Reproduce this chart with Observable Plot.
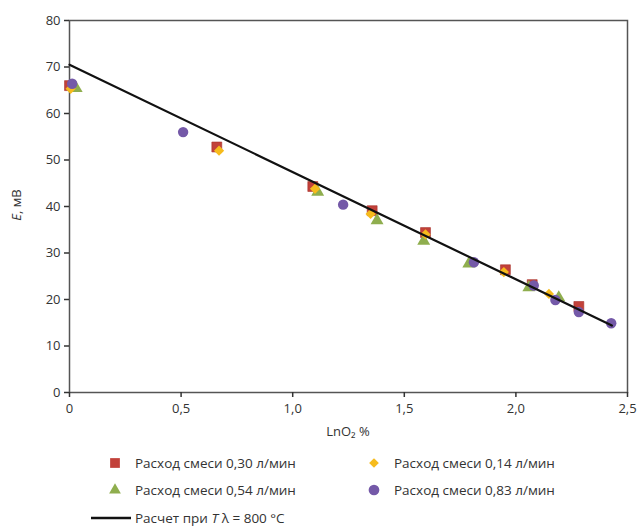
<!DOCTYPE html>
<html>
<head>
<meta charset="utf-8">
<script src="https://cdn.jsdelivr.net/npm/d3@7"></script>
<script src="https://cdn.jsdelivr.net/npm/@observablehq/plot@0.6"></script>
<style>
  body { margin: 0; background: #fff; font-family: "Open Sans", sans-serif; }
  #wrap { position: relative; width: 639px; height: 527px; }
  #legend { position: absolute; left: 0; top: 0; width: 639px; height: 527px; pointer-events: none; }
  .item { position: absolute; display: flex; align-items: center; font-size: 13.5px; color: #333; white-space: nowrap; }
  .item svg { margin-right: 8px; }
</style>
</head>
<body>
<div id="wrap"><div id="chart"></div><div id="legend"></div></div>
<script>
// Series names
const seriesNames = ["Расход смеси 0,30 л/мин", "Расход смеси 0,14 л/мин", "Расход смеси 0,54 л/мин", "Расход смеси 0,83 л/мин"];

// Series 0,30 л/мин (red squares)
const x030 = [0, 0.66, 1.09, 1.356, 1.595, 1.953, 2.073, 2.282];
const y030 = [66.0, 52.8, 44.3, 39.1, 34.4, 26.4, 23.2, 18.5];
// Series 0,14 л/мин (yellow diamonds)
const x014 = [0.005, 0.67, 1.10, 1.349, 1.595, 1.946, 2.148];
const y014 = [65.3, 52.0, 43.8, 38.4, 34.0, 25.9, 21.2];
// Series 0,54 л/мин (green triangles)
const x054 = [0.03, 1.112, 1.378, 1.587, 1.789, 2.058, 2.192];
const y054 = [65.4, 43.1, 37.0, 32.6, 27.7, 22.6, 20.4];
// Series 0,83 л/мин (purple circles)
const x083 = [0.012, 0.509, 1.226, 1.812, 2.08, 2.177, 2.282, 2.427];
const y083 = [66.4, 56.0, 40.4, 28.0, 23.0, 19.9, 17.3, 14.9];
// Calculated line
const xCalc = [0, 2.43];
const yCalc = [70.5, 14.4];

// Ticks
const xTicks = [0, 0.5, 1.0, 1.5, 2.0, 2.5];
const yTicks = [0, 10, 20, 30, 40, 50, 60, 70, 80];

const colors = { c030: "#c2413a", c014: "#f6bb1c", c054: "#8fae4e", c083: "#7459a8" };

const toRows = (xs, ys) => xs.map((x, i) => ({x, y: ys[i]}));
const fmtX = d => d === 0 ? "0" : d.toFixed(1).replace(".", ",");

const W = 639, H = 445;
const plot = Plot.plot({
  width: W, height: H,
  marginTop: 20, marginLeft: 69, marginRight: 12, marginBottom: 53,
  style: { fontFamily: "Open Sans, sans-serif", fontSize: "13px", color: "#333", background: "#fff" },
  x: { domain: [0, 2.5], ticks: xTicks, tickFormat: fmtX, label: null, tickSize: 5, tickPadding: 6 },
  y: { domain: [0, 80], ticks: yTicks, label: null, tickSize: 5, tickPadding: 4 },
  marks: [
    Plot.frame({ stroke: "#555", strokeWidth: 1.5 }),
    Plot.axisX({ ticks: xTicks, tickFormat: fmtX, tickSize: 5, tickPadding: 6, stroke: "#333", strokeWidth: 1.5, label: null }),
    Plot.axisY({ ticks: yTicks, tickSize: 5, tickPadding: 4, stroke: "#333", strokeWidth: 1.5, label: null }),
    Plot.dot(toRows(x030, y030), { x: "x", y: "y", symbol: "square", r: 5.6, fill: colors.c030, stroke: "#a8302a", strokeWidth: 0.6 }),
    Plot.dot(toRows(x054, y054), { x: "x", y: "y", symbol: "triangle", r: 4.8, fill: colors.c054 }),
    Plot.dot(toRows(x014, y014), { x: "x", y: "y", symbol: "diamond2", r: 4.6, fill: colors.c014 }),
    Plot.dot(toRows(x083, y083), { x: "x", y: "y", symbol: "circle", r: 5.2, fill: colors.c083 }),
    Plot.line(toRows(xCalc, yCalc), { x: "x", y: "y", stroke: "#111", strokeWidth: 2.2 })
  ]
});
document.getElementById("chart").appendChild(plot);

// Axis labels
const svg = d3.select(plot);
const yl = svg.append("text")
  .attr("transform", "translate(21,205) rotate(-90)")
  .attr("text-anchor", "middle").attr("fill", "#333").attr("font-size", 13);
yl.append("tspan").attr("font-style", "italic").text("E");
yl.append("tspan").text(", мВ");
svg.append("text").attr("x", 348).attr("y", 436).attr("text-anchor", "middle")
  .attr("fill", "#333").attr("font-size", 13).text("LnO₂ %");

// Legend
const legend = d3.select("#legend");
const legendItems = [
  { name: seriesNames[0], sym: d3.symbolSquare, size: 95, color: colors.c030, left: 107, top: 463 },
  { name: seriesNames[1], sym: d3.symbolDiamond2, size: 60, color: colors.c014, left: 366, top: 463 },
  { name: seriesNames[2], sym: d3.symbolTriangle, size: 60, color: colors.c054, left: 107, top: 490 },
  { name: seriesNames[3], sym: d3.symbolCircle, size: 90, color: colors.c083, left: 366, top: 490 }
];
for (const it of legendItems) {
  const div = legend.append("div").attr("class", "item")
    .style("left", it.left + "px").style("top", (it.top - 10) + "px").style("height", "20px");
  const s = div.append("svg").attr("width", 16).attr("height", 16);
  s.append("path").attr("transform", "translate(8,8)").attr("d", d3.symbol(it.sym, it.size)()).attr("fill", it.color);
  div.append("span").style("margin-left", "4px").text(it.name);
}
const li = legend.append("div").attr("class", "item").style("left", "91px").style("top", "508px").style("height", "20px");
const ls = li.append("svg").attr("width", 40).attr("height", 10).style("margin-right", "4px");
ls.append("line").attr("x1", 0).attr("x2", 40).attr("y1", 5).attr("y2", 5).attr("stroke", "#111").attr("stroke-width", 2.5);
const lt = li.append("span");
lt.append("span").text("Расчет при ");
lt.append("span").style("font-style", "italic").text("T");
lt.append("span").text(" λ = 800 °C");
</script>
</body>
</html>
